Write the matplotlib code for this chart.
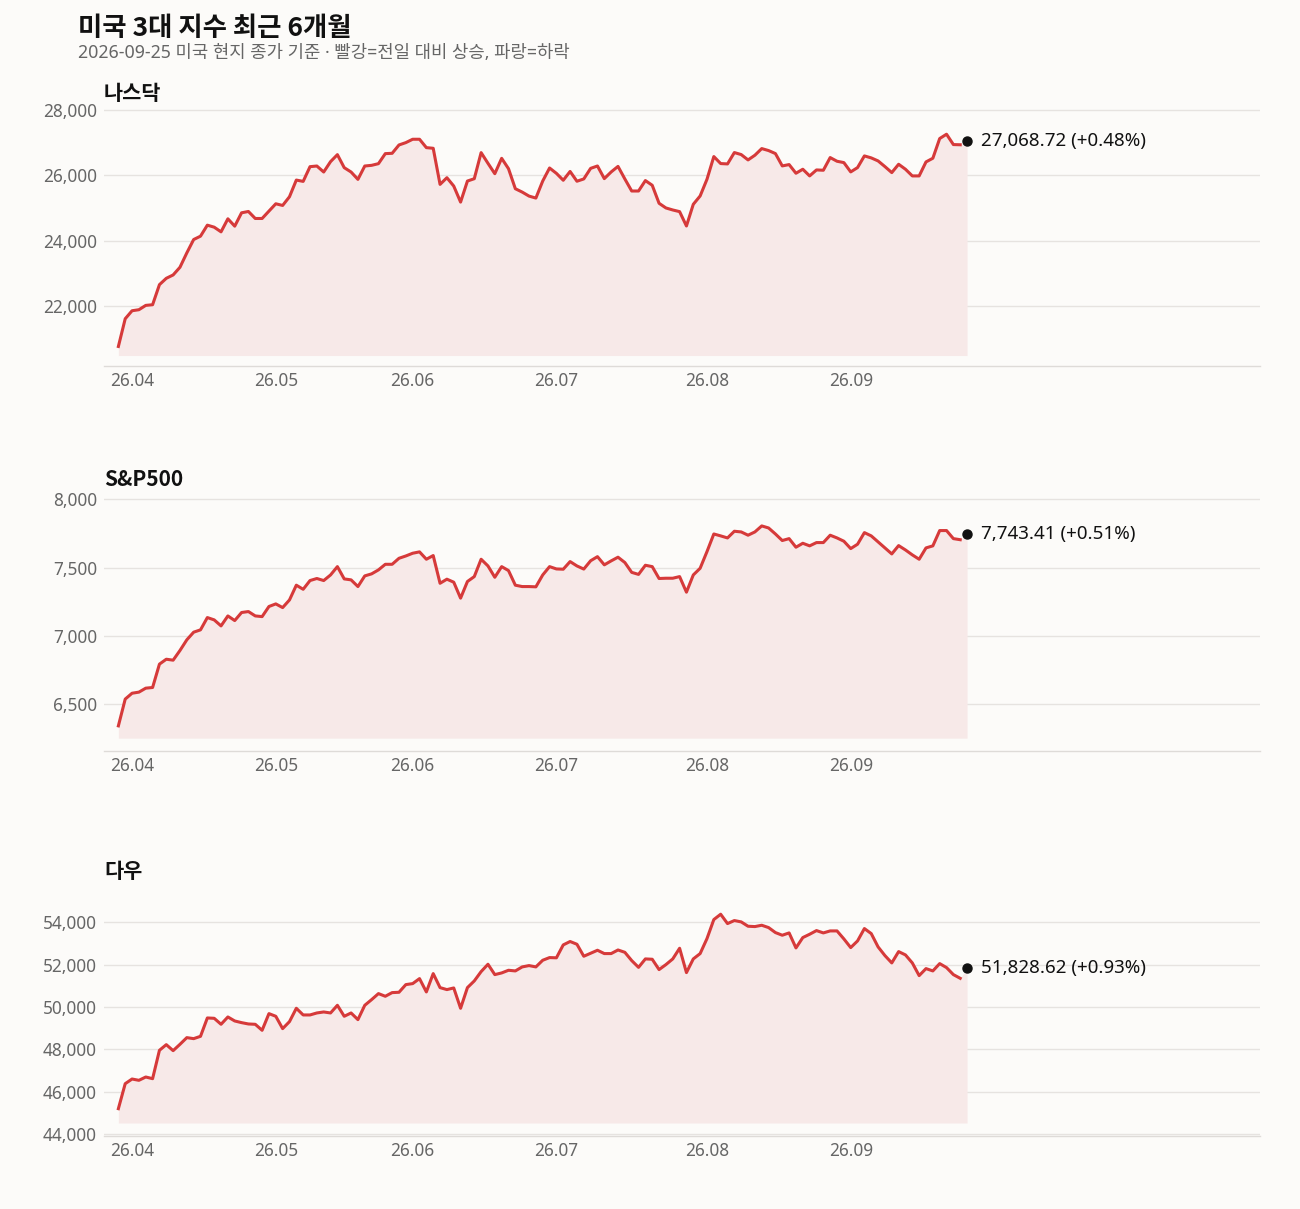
import matplotlib

matplotlib.use("Agg")
import matplotlib.pyplot as plt
import pandas as pd
from matplotlib.ticker import FuncFormatter, MultipleLocator

# Latin glyphs from Noto Sans, Hangul falls through to the CJK family
plt.rcParams["font.family"] = ["Noto Sans", "Noto Sans CJK KR", "DejaVu Sans"]
BOLD_FAMILY = ["Noto Sans CJK KR", "DejaVu Sans"]

# trading days (NYSE calendar) of the last 6 months
START, END = "2026-03-30", "2026-09-25"
HOLIDAYS = ["2026-04-03", "2026-05-25", "2026-06-19", "2026-07-03", "2026-09-07"]

NAMES = ["나스닥", "S&P500", "다우"]
CHANGE_PCT = [0.48, 0.51, 0.93]

NASDAQ = [
    20749, 21600, 21846, 21877, 22010, 22030, 22646, 22841, 22944, 23180,
    23621, 24031, 24134, 24472, 24410, 24267, 24667, 24441, 24851, 24892,
    24677, 24677, 24903, 25128, 25077, 25344, 25856, 25815, 26267, 26287,
    26103, 26421, 26636, 26236, 26103, 25877, 26287, 26308, 26359, 26667,
    26677, 26933, 27005, 27108, 27108, 26851, 26831, 25723, 25928, 25672,
    25180, 25826, 25897, 26698, 26370, 26051, 26523, 26205, 25590, 25487,
    25364, 25303, 25826, 26226, 26062, 25850, 26120, 25820, 25890, 26215,
    26288, 25900, 26105, 26275, 25890, 25520, 25520, 25840, 25696, 25143,
    25000, 24938, 24887, 24447, 25112, 25368, 25880, 26577, 26362, 26351,
    26700, 26638, 26474, 26618, 26822, 26761, 26669, 26290, 26331, 26065,
    26188, 25983, 26167, 26157, 26546, 26433, 26392, 26106, 26239, 26597,
    26536, 26443, 26269, 26085, 26341, 26188, 25983, 25983, 26413, 26525,
    27130, 27263, 26945, 26939, 27068.72,
]

SP500 = [
    6341, 6537, 6580, 6588, 6617, 6622, 6793, 6829, 6822, 6893,
    6971, 7027, 7044, 7134, 7117, 7073, 7146, 7112, 7171, 7178,
    7146, 7141, 7215, 7234, 7207, 7263, 7371, 7341, 7405, 7420,
    7405, 7446, 7507, 7417, 7410, 7361, 7439, 7454, 7483, 7524,
    7524, 7568, 7585, 7605, 7615, 7561, 7588, 7385, 7415, 7393,
    7276, 7398, 7434, 7561, 7512, 7429, 7507, 7478, 7371, 7361,
    7361, 7359, 7446, 7507, 7490, 7488, 7544, 7512, 7489, 7550,
    7580, 7520, 7549, 7576, 7537, 7465, 7450, 7517, 7507, 7420,
    7422, 7422, 7434, 7320, 7446, 7495, 7617, 7746, 7732, 7717,
    7766, 7761, 7737, 7761, 7805, 7790, 7746, 7698, 7712, 7649,
    7678, 7659, 7683, 7683, 7737, 7717, 7693, 7639, 7671, 7756,
    7732, 7688, 7644, 7600, 7661, 7629, 7593, 7561, 7644, 7659,
    7771, 7771, 7712, 7704, 7743.41,
]

DOW = [
    45196, 46377, 46597, 46535, 46692, 46613, 47952, 48220, 47936, 48236,
    48551, 48503, 48613, 49480, 49464, 49181, 49527, 49338, 49259, 49196,
    49181, 48897, 49685, 49559, 48976, 49307, 49937, 49622, 49622, 49716,
    49763, 49716, 50078, 49559, 49716, 49401, 50078, 50346, 50630, 50504,
    50677, 50693, 51055, 51102, 51338, 50708, 51575, 50913, 50819, 50897,
    49937, 50913, 51228, 51669, 52016, 51527, 51606, 51732, 51701, 51890,
    51953, 51890, 52205, 52331, 52320, 52930, 53090, 52960, 52394, 52535,
    52677, 52520, 52520, 52690, 52580, 52190, 51870, 52268, 52252, 51764,
    52000, 52268, 52772, 51622, 52268, 52520, 53228, 54126, 54378, 53937,
    54079, 54016, 53811, 53795, 53858, 53748, 53512, 53386, 53496, 52787,
    53276, 53433, 53606, 53496, 53590, 53590, 53213, 52803, 53118, 53701,
    53464, 52835, 52425, 52079, 52614, 52457, 52079, 51480, 51811, 51701,
    52047, 51858, 51527, 51352, 51828.62,
]

SERIES = [NASDAQ, SP500, DOW]

# axis settings per panel
Y_STEP = [2000, 500, 2000]
Y_LIM = [(20150, 28190), (6157, 8068), (43906, 55900)]
FILL_BASE = [20472, 6251, 44519]
AX_PX = [(104, 366), (490, 751), (882, 1136)]  # top, bottom in pixels

BG = "#fcfbf9"
RED = "#d63a3a"
FILL = "#f7e9e8"
GRID = "#e6e3e0"
TICK = "#666666"

W, H = 1300, 1209

dates = pd.bdate_range(START, END, freq="C", holidays=HOLIDAYS)
x = list(range(len(dates)))
month_pos = [i for i in x[1:] if dates[i].month != dates[i - 1].month]
month_lab = [dates[i].strftime("%y.%m") for i in month_pos]

fig = plt.figure(figsize=(W / 100, H / 100), dpi=100, facecolor=BG)
fig.text(78 / W, 1 - 29 / H, "미국 3대 지수 최근 6개월", fontsize=19, family=BOLD_FAMILY,
         fontweight="bold", color="#111111", va="center")
fig.text(78 / W, 1 - 53 / H, "2026-09-25 미국 현지 종가 기준 · 빨강=전일 대비 상승, 파랑=하락",
         fontsize=12.8, color="#666666", va="center")

for name, vals, pct, step, ylim, base, (top, bot) in zip(
        NAMES, SERIES, CHANGE_PCT, Y_STEP, Y_LIM, FILL_BASE, AX_PX):
    ax = fig.add_axes([104 / W, 1 - bot / H, (1260 - 104) / W, (bot - top) / H])
    ax.set_facecolor(BG)
    ax.fill_between(x, vals, base, color=FILL, lw=0, zorder=1)
    ax.plot(x[:-1], vals[:-1], color=RED, lw=2.2, zorder=3, solid_joinstyle="round")
    ax.plot(x[-1], vals[-1], "o", color="#111111", ms=6.5, zorder=4)
    ax.annotate(f"{vals[-1]:,.2f} (+{pct:.2f}%)", (x[-1], vals[-1]), xytext=(10, 0),
                textcoords="offset points", va="center", fontsize=13.5, color="#111111")

    ax.set_xlim(-2.1, 166.8)
    ax.set_ylim(*ylim)
    ax.yaxis.set_major_locator(MultipleLocator(step))
    ax.yaxis.set_major_formatter(FuncFormatter(lambda v, _: f"{v:,.0f}"))
    ax.set_xticks(month_pos, month_lab)
    ax.grid(axis="y", color=GRID, lw=1.0, zorder=0)
    ax.set_axisbelow(True)
    ax.tick_params(length=0, labelsize=12.4, labelcolor=TICK)
    ax.tick_params(axis="y", pad=5)
    ax.tick_params(axis="x", pad=4)
    for side in ["top", "right", "left"]:
        ax.spines[side].set_visible(False)
    ax.spines["bottom"].set_color("#dedbd8")
    ax.spines["bottom"].set_linewidth(1.0)
    ax.set_title(name, loc="left", fontsize=15, family=BOLD_FAMILY, fontweight="bold",
                 color="#111111", pad=3)

fig.savefig("out.png", dpi=100, facecolor=BG)
